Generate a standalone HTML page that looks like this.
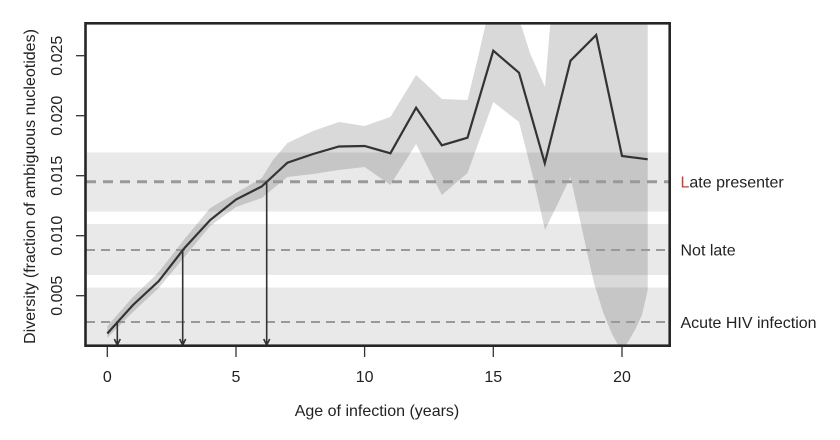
<!DOCTYPE html>
<html>
<head>
<meta charset="utf-8">
<style>
  html, body { margin:0; padding:0; background:#fff; }
  svg { display:block; }
  text { font-family: "Liberation Sans", Arial, sans-serif; fill:#222; font-size:16px; }
</style>
</head>
<body>
<svg width="840" height="440" viewBox="0 0 840 440" xmlns="http://www.w3.org/2000/svg">
  <defs>
    <clipPath id="plot">
      <rect x="86" y="23" width="584" height="323"/>
    </clipPath>
  </defs>

  <g clip-path="url(#plot)">
    <!-- background bands -->
    <rect x="86" y="152.5" width="584" height="59" fill="#e9e9e9"/>
    <rect x="86" y="224" width="584" height="51" fill="#e9e9e9"/>
    <rect x="86" y="287.5" width="584" height="60" fill="#e9e9e9"/>

    <!-- confidence ribbon -->
    <polygon fill="#000" fill-opacity="0.15" points="
      107.3,326 133,297 158.8,272 184.5,239 210.2,208 236,193 261.7,178 273,160 287.4,143 300,137 313.1,131
      338.9,122 364.6,126 390.4,117 416.1,75 441.8,99 467.5,100 478,57 485,27 493.3,-10 505,0 516,18
      521.7,26.7 530,53 545,87 550,27 556,-40 647.7,-40
      647.7,290 642,315 635,330 628,342 622,352
      612,334 603,312 594,283 587,252 580,220 570.5,177
      560,199 545,230 533,177 519,122 493.3,102 467.5,173 441.8,195 416.1,144 390.4,185 364.6,167
      338.9,170 313.1,174 287.4,177 280,183 261.7,198 236,207 210.2,226 184.5,257 158.8,288 133,312 107.3,338"/>

    <!-- dashed reference lines -->
    <line x1="86" y1="181.7" x2="670" y2="181.7" stroke="#999" stroke-width="3" stroke-dasharray="10 7"/>
    <line x1="86" y1="250" x2="670" y2="250" stroke="#999" stroke-width="2" stroke-dasharray="9 6"/>
    <line x1="86" y1="322" x2="670" y2="322" stroke="#999" stroke-width="2" stroke-dasharray="9 6"/>

    <!-- arrows -->
    <g stroke="#333" stroke-width="1.6" fill="none">
      <line x1="117.3" y1="322" x2="117.3" y2="345"/>
      <polyline points="114.3,339 117.3,345 120.3,339"/>
      <line x1="182.7" y1="250" x2="182.7" y2="345"/>
      <polyline points="179.7,339 182.7,345 185.7,339"/>
      <line x1="266.7" y1="182" x2="266.7" y2="345"/>
      <polyline points="263.7,339 266.7,345 269.7,339"/>
    </g>

    <!-- main line -->
    <polyline fill="none" stroke="#333" stroke-width="2.2" stroke-linejoin="miter" points="
      107.3,333.5 133,305 158.8,281 184.5,248 210.2,220 236,199.5 261.7,186.5 287.4,162.7 313.1,154
      338.9,146.5 364.6,146 390.4,153.3 416.1,107.7 441.8,145.3 467.5,137.7 493.3,50.7 519,72.7
      544.8,163.3 570.5,60.7 596.2,35 622,156 647.7,159.3"/>
  </g>

  <!-- box -->
  <rect x="85.5" y="23.3" width="584.2" height="322.4" fill="none" stroke="#262626" stroke-width="2.6"/>

  <!-- y ticks -->
  <g stroke="#333" stroke-width="1.3">
    <line x1="76" y1="295.7" x2="85" y2="295.7"/>
    <line x1="76" y1="235.7" x2="85" y2="235.7"/>
    <line x1="76" y1="175.7" x2="85" y2="175.7"/>
    <line x1="76" y1="115.7" x2="85" y2="115.7"/>
    <line x1="76" y1="55.7" x2="85" y2="55.7"/>
  </g>
  <g text-anchor="middle">
    <text transform="translate(62,295.7) rotate(-90)">0.005</text>
    <text transform="translate(62,235.7) rotate(-90)">0.010</text>
    <text transform="translate(62,175.7) rotate(-90)">0.015</text>
    <text transform="translate(62,115.7) rotate(-90)">0.020</text>
    <text transform="translate(62,55.7) rotate(-90)">0.025</text>
  </g>

  <!-- x ticks -->
  <g stroke="#333" stroke-width="1.3">
    <line x1="107.3" y1="347" x2="107.3" y2="357"/>
    <line x1="236" y1="347" x2="236" y2="357"/>
    <line x1="364.6" y1="347" x2="364.6" y2="357"/>
    <line x1="493.3" y1="347" x2="493.3" y2="357"/>
    <line x1="622" y1="347" x2="622" y2="357"/>
  </g>
  <g text-anchor="middle">
    <text x="107.3" y="382">0</text>
    <text x="236" y="382">5</text>
    <text x="364.6" y="382">10</text>
    <text x="493.3" y="382">15</text>
    <text x="622" y="382">20</text>
  </g>

  <!-- axis labels -->
  <text x="377" y="416" text-anchor="middle">Age of infection (years)</text>
  <text transform="translate(35,186.5) rotate(-90)" text-anchor="middle">Diversity (fraction of ambiguous nucleotides)</text>

  <!-- right labels -->
  <text x="680.5" y="187.5"><tspan fill="#cc3b3b">L</tspan>ate presenter</text>
  <text x="680.5" y="255.5">Not late</text>
  <text x="680.5" y="328">Acute HIV infection</text>
</svg>
</body>
</html>
